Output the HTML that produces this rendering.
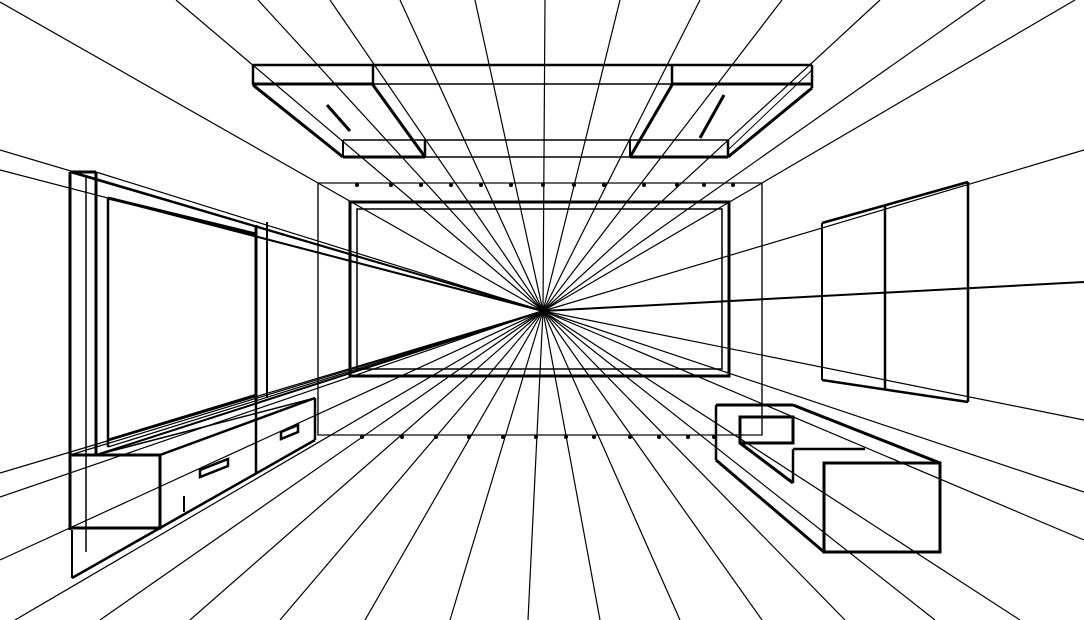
<!DOCTYPE html>
<html><head><meta charset="utf-8"><style>html,body{margin:0;padding:0;background:#fff}svg{display:block}</style></head>
<body>
<svg width="1084" height="620" viewBox="0 0 1084 620" xmlns="http://www.w3.org/2000/svg">
<rect width="1084" height="620" fill="#fff"/>
<g stroke="#000" stroke-width="1.2" fill="none">
<!-- radial lines from VP (543,311) -->
<line x1="543" y1="311" x2="0" y2="2"/>
<line x1="543" y1="311" x2="176" y2="0"/>
<line x1="543" y1="311" x2="258" y2="0"/>
<line x1="543" y1="311" x2="330" y2="0"/>
<line x1="543" y1="311" x2="400" y2="0"/>
<line x1="543" y1="311" x2="475" y2="0"/>
<line x1="543" y1="311" x2="545" y2="0"/>
<line x1="543" y1="311" x2="620" y2="0"/>
<line x1="543" y1="311" x2="700" y2="0"/>
<line x1="543" y1="311" x2="782" y2="0"/>
<line x1="543" y1="311" x2="880" y2="0"/>
<line x1="543" y1="311" x2="985" y2="0"/>
<line x1="543" y1="311" x2="1075" y2="0"/>
<line x1="543" y1="311" x2="0" y2="150"/>
<line x1="543" y1="311" x2="0" y2="170"/>
<line x1="543" y1="311" x2="0" y2="473"/>
<line x1="543" y1="311" x2="0" y2="497"/>
<line x1="543" y1="311" x2="0" y2="560"/>
<line x1="543" y1="311" x2="1084" y2="150"/>
<line x1="543" y1="311" x2="1084" y2="282" stroke-width="2"/>
<line x1="543" y1="311" x2="1084" y2="420"/>
<line x1="543" y1="311" x2="1084" y2="492"/>
<line x1="543" y1="311" x2="1084" y2="540"/>
<line x1="543" y1="311" x2="15" y2="620"/>
<line x1="543" y1="311" x2="100" y2="620"/>
<line x1="543" y1="311" x2="190" y2="620"/>
<line x1="543" y1="311" x2="280" y2="620"/>
<line x1="543" y1="311" x2="365" y2="620"/>
<line x1="543" y1="311" x2="450" y2="620"/>
<line x1="543" y1="311" x2="528" y2="620"/>
<line x1="543" y1="311" x2="600" y2="620"/>
<line x1="543" y1="311" x2="680" y2="620"/>
<line x1="543" y1="311" x2="762" y2="620"/>
<line x1="543" y1="311" x2="845" y2="620"/>
<line x1="543" y1="311" x2="935" y2="620"/>
<line x1="543" y1="311" x2="1020" y2="620"/>
<!-- extra left wall lines converging -->
<line x1="543" y1="311" x2="70" y2="172" stroke-width="2"/>
<line x1="543" y1="311" x2="96" y2="172"/>
<line x1="543" y1="311" x2="108" y2="198" stroke-width="2"/>
<line x1="543" y1="311" x2="96" y2="455" stroke-width="2"/>
<line x1="543" y1="311" x2="108" y2="447"/>
<line x1="543" y1="311" x2="70" y2="455"/>
<!-- back wall -->
<rect x="318" y="183" width="444" height="252"/>
<rect x="350" y="202" width="379" height="174" stroke-width="3"/>
<rect x="357" y="209" width="365" height="160" stroke-width="1.5"/>
</g>
<!-- dots -->
<g fill="#000">
<circle cx="357" cy="185" r="2"/><circle cx="391" cy="185" r="2"/><circle cx="421" cy="185" r="2"/><circle cx="451" cy="185" r="2"/><circle cx="481" cy="185" r="2"/><circle cx="511" cy="185" r="2"/><circle cx="543" cy="185" r="2"/><circle cx="574" cy="185" r="2"/><circle cx="604" cy="185" r="2"/><circle cx="644" cy="185" r="2"/><circle cx="677" cy="185" r="2"/><circle cx="704" cy="185" r="2"/><circle cx="733" cy="185" r="2"/>
<circle cx="362" cy="437" r="2"/><circle cx="402" cy="437" r="2"/><circle cx="436" cy="437" r="2"/><circle cx="469" cy="437" r="2"/><circle cx="503" cy="437" r="2"/><circle cx="536" cy="437" r="2"/><circle cx="566" cy="437" r="2"/><circle cx="594" cy="437" r="2"/><circle cx="630" cy="437" r="2"/><circle cx="659" cy="437" r="2"/><circle cx="688" cy="437" r="2"/><circle cx="714" cy="437" r="2"/>
</g>
<!-- ceiling -->
<g stroke="#000" fill="none">
<line x1="253" y1="65" x2="812" y2="65" stroke-width="2.5"/>
<line x1="253" y1="84" x2="812" y2="84" stroke-width="1.5"/>
<line x1="253" y1="84" x2="373" y2="84" stroke-width="3"/>
<line x1="672" y1="84" x2="812" y2="84" stroke-width="3"/>
<line x1="253" y1="65" x2="253" y2="85" stroke-width="2.5"/>
<line x1="373" y1="65" x2="373" y2="85" stroke-width="2.5"/>
<line x1="672" y1="65" x2="672" y2="85" stroke-width="2.5"/>
<line x1="812" y1="65" x2="812" y2="88" stroke-width="2.5"/>
<line x1="253" y1="85" x2="343" y2="157" stroke-width="3"/>
<line x1="373" y1="85" x2="425" y2="157" stroke-width="3"/>
<line x1="672" y1="85" x2="630" y2="157" stroke-width="3"/>
<line x1="812" y1="88" x2="728" y2="157" stroke-width="3"/>
<line x1="812" y1="70" x2="728" y2="150" stroke-width="1"/>
<line x1="343" y1="140" x2="728" y2="140" stroke-width="1.5"/>
<line x1="343" y1="157" x2="728" y2="157" stroke-width="1.5"/>
<line x1="343" y1="157" x2="425" y2="157" stroke-width="3"/>
<line x1="630" y1="157" x2="728" y2="157" stroke-width="3"/>
<line x1="343" y1="140" x2="343" y2="157" stroke-width="2"/>
<line x1="425" y1="140" x2="425" y2="157" stroke-width="2.5"/>
<line x1="630" y1="140" x2="630" y2="157" stroke-width="2"/>
<line x1="728" y1="140" x2="728" y2="157" stroke-width="2.5"/>
<line x1="327" y1="105" x2="350" y2="131" stroke-width="3"/>
<line x1="724" y1="95" x2="700" y2="138" stroke-width="3"/>
</g>
<!-- left wall TV -->
<g stroke="#000" fill="none">
<line x1="70" y1="172" x2="70" y2="530" stroke-width="3"/>
<line x1="70" y1="172" x2="96" y2="172" stroke-width="3"/>
<line x1="86" y1="176" x2="86" y2="552" stroke-width="1.5"/>
<line x1="96" y1="172" x2="96" y2="455" stroke-width="3"/>
<line x1="108" y1="198" x2="108" y2="447" stroke-width="2.5"/>
<line x1="256" y1="225" x2="256" y2="400" stroke-width="3"/>
<line x1="267" y1="222" x2="267" y2="398" stroke-width="2"/>
<line x1="108" y1="198" x2="256" y2="234" stroke-width="3"/>
<line x1="108" y1="440" x2="256" y2="395" stroke-width="2.5"/>
<!-- cabinet -->
<rect x="70" y="455" width="90" height="73" stroke-width="3"/>
<line x1="160" y1="455" x2="315" y2="398" stroke-width="2.5"/>
<line x1="96" y1="455" x2="315" y2="398" stroke-width="1.5"/>
<line x1="160" y1="528" x2="315" y2="440" stroke-width="2.5"/>
<line x1="315" y1="398" x2="315" y2="440" stroke-width="2.5"/>
<line x1="256" y1="400" x2="256" y2="473" stroke-width="2.5"/>
<line x1="72" y1="530" x2="72" y2="578" stroke-width="2"/>
<line x1="72" y1="578" x2="160" y2="528" stroke-width="2.5"/>
<line x1="184" y1="496" x2="184" y2="512" stroke-width="2"/>
<polygon points="200,470 228,459 228,466 200,477" stroke-width="2.5"/>
<polygon points="281,432 298,425 298,432 281,439" stroke-width="2.5"/>
<line x1="318" y1="183" x2="318" y2="435" stroke-width="1.2"/>
</g>
<!-- right wall windows -->
<g stroke="#000" fill="none">
<line x1="822" y1="223" x2="968" y2="182" stroke-width="2.5"/>
<line x1="822" y1="380" x2="968" y2="402" stroke-width="2.5"/>
<line x1="822" y1="223" x2="822" y2="380" stroke-width="2"/>
<line x1="885" y1="205" x2="885" y2="390" stroke-width="2.5"/>
<line x1="968" y1="182" x2="968" y2="402" stroke-width="2.5"/>
<!-- right boxes -->
<line x1="716" y1="405" x2="793" y2="405" stroke-width="3"/>
<line x1="716" y1="405" x2="716" y2="460" stroke-width="2.5"/>
<rect x="740" y="417" width="53" height="26" stroke-width="3"/>
<line x1="793" y1="405" x2="940" y2="463" stroke-width="3"/>
<line x1="716" y1="460" x2="824" y2="552" stroke-width="3"/>
<line x1="740" y1="443" x2="793" y2="483" stroke-width="3"/>
<line x1="793" y1="449" x2="793" y2="483" stroke-width="2.5"/>
<line x1="793" y1="449" x2="865" y2="449" stroke-width="2.5"/>
<rect x="824" y="463" width="116" height="89" stroke-width="3"/>
<line x1="762" y1="183" x2="762" y2="435" stroke-width="1.2"/>
</g>
</svg>
</body></html>
